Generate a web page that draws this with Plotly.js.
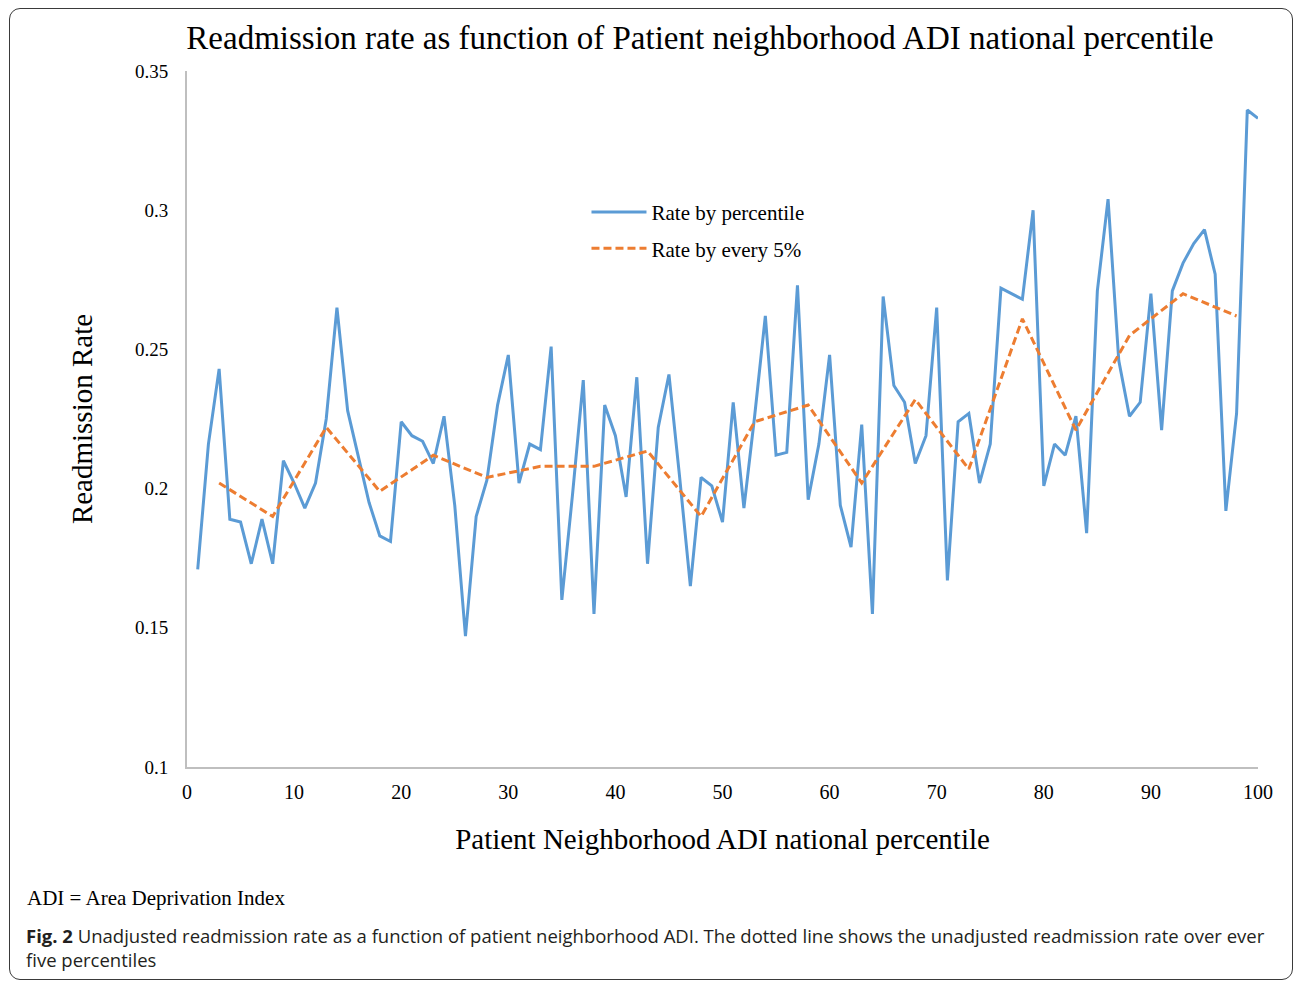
<!DOCTYPE html>
<html>
<head>
<meta charset="utf-8">
<script src="https://cdn.plot.ly/plotly-3.0.1.min.js"></script>
<style>
  html, body { margin: 0; padding: 0; background: #ffffff; }
  #frame { position: absolute; left: 9px; top: 8px; width: 1282px; height: 970px;
           border: 1.5px solid #3a3a3a; border-radius: 11px; }
  #chart { position: absolute; left: 0; top: 0; width: 1295px; height: 981px; }
</style>
</head>
<body>
<div id="frame"></div>
<div id="chart"></div>
<script>
// ---- data ----
const percentile = [1,2,3,4,5,6,7,8,9,10,11,12,13,14,15,16,17,18,19,20,
  21,22,23,24,25,26,27,28,29,30,31,32,33,34,35,36,37,38,39,40,
  41,42,43,44,45,46,47,48,49,50,51,52,53,54,55,56,57,58,59,60,
  61,62,63,64,65,66,67,68,69,70,71,72,73,74,75,76,77,78,79,80,
  81,82,83,84,85,86,87,88,89,90,91,92,93,94,95,96,97,98,99,100];

const ratePerPercentile = [0.171,0.216,0.243,0.189,0.188,0.173,0.189,0.173,0.210,0.202,
  0.193,0.202,0.225,0.265,0.228,0.212,0.195,0.183,0.181,0.224,
  0.219,0.217,0.209,0.226,0.194,0.147,0.190,0.203,0.230,0.248,
  0.202,0.216,0.214,0.251,0.160,0.198,0.239,0.155,0.230,0.219,
  0.197,0.240,0.173,0.222,0.241,0.204,0.165,0.204,0.201,0.188,
  0.231,0.193,0.226,0.262,0.212,0.213,0.273,0.196,0.216,0.248,
  0.194,0.179,0.223,0.155,0.269,0.237,0.231,0.209,0.219,0.265,
  0.167,0.224,0.227,0.202,0.216,0.272,0.270,0.268,0.300,0.201,
  0.216,0.212,0.226,0.184,0.271,0.304,0.246,0.226,0.231,0.270,
  0.221,0.271,0.281,0.288,0.293,0.277,0.192,0.227,0.336,0.333];

const fivePctMid = [3,8,13,18,23,28,33,38,43,48,53,58,63,68,73,78,83,88,93,98];
const ratePerFive = [0.202,0.190,0.222,0.199,0.212,0.204,0.208,0.208,0.2135,0.190,
  0.224,0.230,0.202,0.232,0.207,0.261,0.221,0.255,0.270,0.262];

const seriesNames = ["Rate by percentile", "Rate by every 5%"];
const titleText = "Readmission rate as function of Patient neighborhood ADI national percentile";
const xTitle = "Patient Neighborhood ADI national percentile";
const yTitle = "Readmission Rate";
const noteText = "ADI = Area Deprivation Index";
const captionText = "<b>Fig. 2</b> Unadjusted readmission rate as a function of patient neighborhood ADI. The dotted line shows the unadjusted readmission rate over ever<br>five percentiles";

const serif = "Liberation Serif, Times New Roman, serif";
const sans = "Open Sans, Noto Sans, sans-serif";

const traces = [
  { x: percentile, y: ratePerPercentile, type: "scatter", mode: "lines",
    name: seriesNames[0], legendgroup: "a",
    line: { color: "#5B9BD5", width: 3 } },
  { x: fivePctMid, y: ratePerFive, type: "scatter", mode: "lines",
    name: seriesNames[1], legendgroup: "b",
    line: { color: "#ED7D31", width: 3, dash: "8px,4px" } }
];

const layout = {
  width: 1295, height: 981,
  margin: { l: 187, r: 37, t: 71, b: 214 },
  paper_bgcolor: "rgba(0,0,0,0)",
  plot_bgcolor: "rgba(0,0,0,0)",
  font: { family: serif, color: "#000000" },
  title: { text: titleText, xref: "paper", x: 0.479, xanchor: "center",
           yref: "container", y: 0.962, yanchor: "middle",
           font: { family: serif, size: 33, color: "#000000" } },
  xaxis: { range: [0, 100], dtick: 10, tick0: 0, showgrid: false, zeroline: false,
           showline: true, linecolor: "#BFBFBF", linewidth: 2, ticks: "",
           ticklabelstandoff: 6,
           tickfont: { family: serif, size: 20, color: "#000000" },
           title: { text: xTitle, standoff: 27, font: { family: serif, size: 29, color: "#000000" } } },
  yaxis: { range: [0.1, 0.35], dtick: 0.05, tick0: 0.1, showgrid: false, zeroline: false,
           showline: true, linecolor: "#BFBFBF", linewidth: 2, ticks: "",
           ticklabelstandoff: 13,
           tickfont: { family: serif, size: 19, color: "#000000" },
           title: { text: yTitle, standoff: 34, font: { family: serif, size: 29, color: "#000000" } } },
  showlegend: true,
  legend: { x: 0.373, y: 0.771, xanchor: "left", yanchor: "middle",
            bgcolor: "rgba(0,0,0,0)", traceorder: "grouped", tracegroupgap: 6,
            itemwidth: 55,
            font: { family: serif, size: 21, color: "#000000" } },
  annotations: [
    { text: noteText, xref: "paper", yref: "paper", x: -0.151, y: -0.188,
      xanchor: "left", yanchor: "middle", showarrow: false, align: "left",
      font: { family: serif, size: 21, color: "#000000" } },
    { text: captionText, xref: "paper", yref: "paper", x: -0.1525, y: -0.260,
      xanchor: "left", yanchor: "middle", showarrow: false, align: "left",
      font: { family: sans, size: 18.5, color: "#231F20" } }
  ]
};

Plotly.newPlot("chart", traces, layout, { displayModeBar: false, staticPlot: true });
</script>
</body>
</html>
